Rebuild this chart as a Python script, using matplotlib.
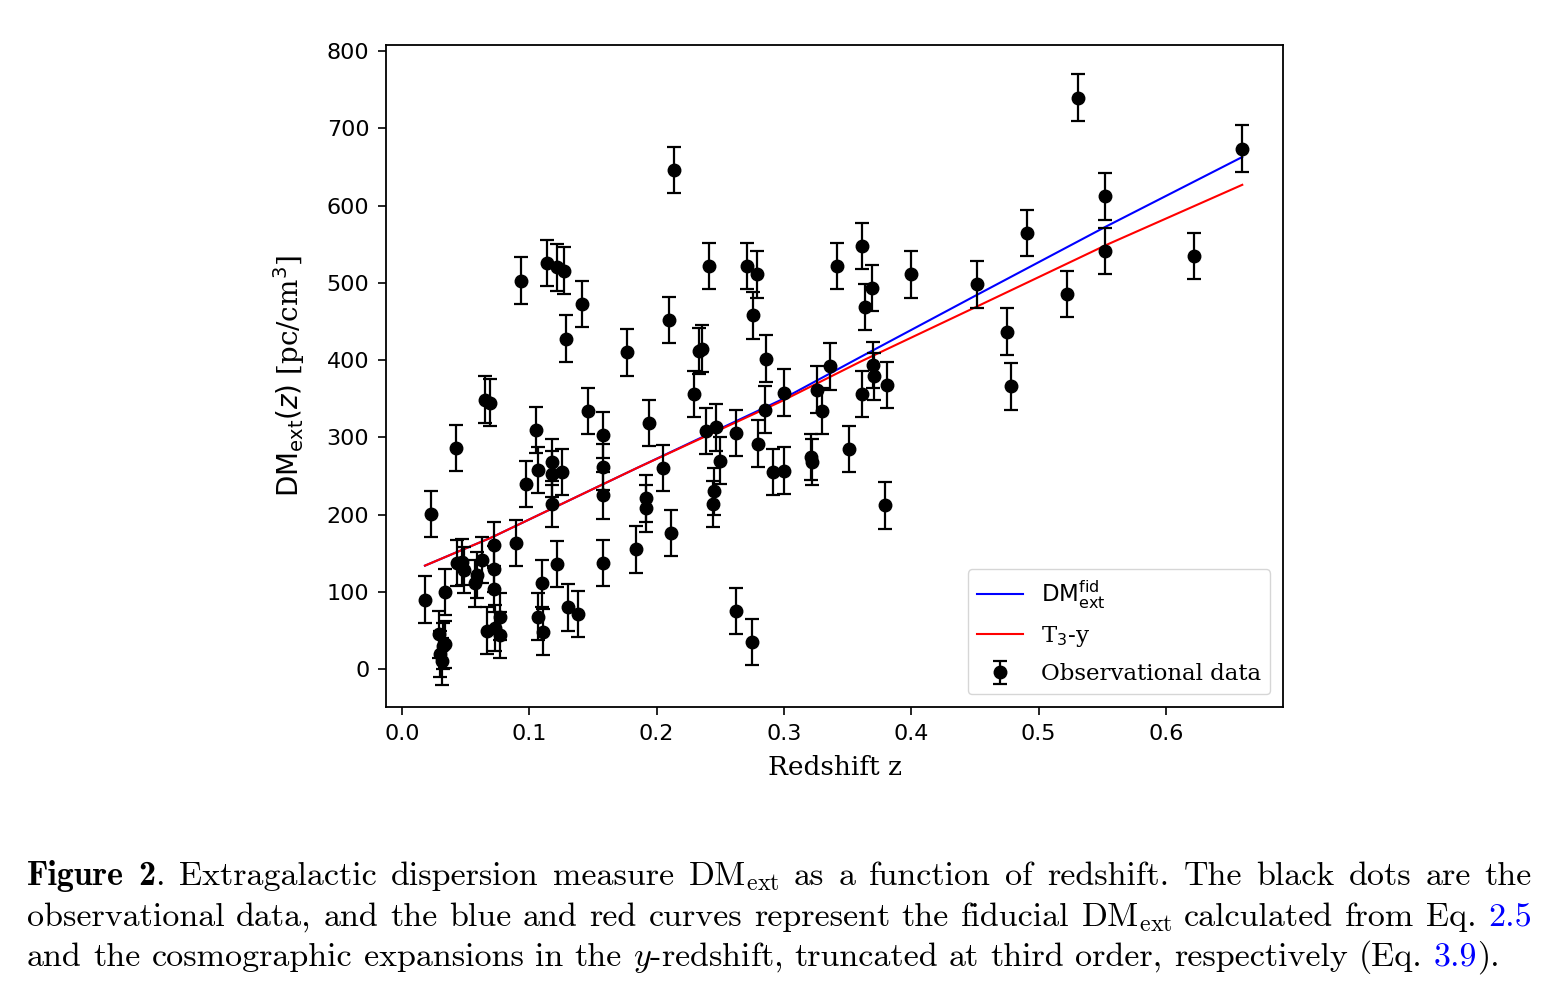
"""Extragalactic DM vs redshift with fiducial and T3-y curves, plus caption."""
import matplotlib
matplotlib.use("Agg")
import matplotlib.pyplot as plt
from matplotlib.lines import Line2D

# observational data
z_obs = [0.018, 0.023, 0.029, 0.030, 0.031, 0.032, 0.034, 0.034, 0.042, 0.043,
         0.047, 0.049, 0.057, 0.059, 0.063, 0.0655, 0.0665, 0.069, 0.072, 0.072,
         0.072, 0.073, 0.077, 0.077, 0.0895, 0.0935, 0.097, 0.105, 0.107, 0.107,
         0.110, 0.111, 0.114, 0.118, 0.118, 0.118, 0.1215, 0.122, 0.1255, 0.127,
         0.129, 0.130, 0.1385, 0.141, 0.146, 0.158, 0.158, 0.158, 0.158, 0.177,
         0.184, 0.192, 0.192, 0.194, 0.205, 0.210, 0.211, 0.214, 0.229, 0.233,
         0.236, 0.239, 0.241, 0.244, 0.245, 0.247, 0.250, 0.262, 0.262, 0.271,
         0.275, 0.276, 0.279, 0.280, 0.285, 0.286, 0.291, 0.300, 0.300, 0.321,
         0.322, 0.326, 0.330, 0.336, 0.342, 0.351, 0.361, 0.361, 0.364, 0.369,
         0.370, 0.371, 0.379, 0.381, 0.400, 0.452, 0.475, 0.478, 0.491, 0.522,
         0.531, 0.552, 0.552, 0.622, 0.660]
dm_obs = [90, 201, 45, 20, 10, 30, 32, 100, 286, 137,
          139, 128, 111, 122, 141, 349, 50, 345, 161, 130,
          104, 53, 68, 44, 163, 503, 240, 310, 258, 68,
          111, 48, 526, 268, 253, 214, 136, 520, 255, 516,
          428, 80, 71, 473, 334, 303, 262, 225, 137, 410,
          155, 221, 208, 319, 260, 452, 176, 646, 356, 412,
          415, 308, 522, 214, 230, 313, 270, 306, 75, 522,
          35, 458, 511, 292, 336, 402, 255, 257, 358, 275,
          268, 362, 334, 392, 522, 285, 548, 356, 469, 493,
          394, 379, 212, 368, 511, 498, 437, 366, 565, 486,
          740, 612, 541, 535, 674]
dm_err = 30

# model curves
z_model = [0.018, 0.071, 0.184, 0.297, 0.360, 0.451, 0.553, 0.660]
dm_fid = [134, 171, 260, 348, 404, 484, 573, 663]
dm_t3y = [134, 171, 260, 346, 398, 469, 549, 627]

caption_lines = [
    r"*Figure *2|. Extragalactic dispersion measure $\mathrm{DM}_{\mathrm{ext}}$ as a function of redshift. The black dots are the",
    r"observational data, and the blue and red curves represent the fiducial $\mathrm{DM}_{\mathrm{ext}}$ calculated from Eq. #2.5",
    r"and the cosmographic expansions in the $y$-redshift, truncated at third order, respectively (Eq. #3.9|).",
]

W, H = 1556, 1005


def draw_caption(fig, lines, x0, x1, baselines, size):
    r = fig.canvas.get_renderer()
    space = size * 0.333 * fig.dpi / 72
    for i, (line, yb) in enumerate(zip(lines, baselines)):
        words = []
        for word in line.split(" "):
            segs = []
            for seg in word.split("|"):
                fam, col = "cmr10", "black"
                if seg.startswith("*"):
                    fam, seg = "cmb10", seg[1:]
                elif seg.startswith("#"):
                    col, seg = "blue", seg[1:]
                t = fig.text(0, 1 - yb / H, seg, fontsize=size, family=fam,
                             color=col, math_fontfamily="cm",
                             ha="left", va="baseline")
                segs.append((t, t.get_window_extent(renderer=r).width))
            words.append(segs)
        widths = [sum(w for _, w in segs) for segs in words]
        if i < len(lines) - 1 and len(words) > 1:
            gap = (x1 - x0 - sum(widths)) / (len(words) - 1)
        else:
            gap = space
        x = x0
        for segs in words:
            for t, w in segs:
                t.set_x(x / W)
                x += w
            x += gap


fig = plt.figure(figsize=(W / 100, H / 100), dpi=100)
ax = fig.add_axes([386 / W, 1 - 707 / H, 897 / W, 662 / H])

ax.errorbar(z_obs, dm_obs, yerr=dm_err, fmt="o", color="black", ms=9,
            elinewidth=1.6, capsize=5, capthick=1.6, zorder=3)
ax.plot(z_model, dm_fid, color="blue", lw=1.5, zorder=2)
ax.plot(z_model, dm_t3y, color="red", lw=1.5, zorder=2)

ax.set_xlim(-0.0126, 0.692)
ax.set_ylim(-49, 808)
ax.set_xticks([0.0, 0.1, 0.2, 0.3, 0.4, 0.5, 0.6])
ax.set_yticks(range(0, 801, 100))
ax.tick_params(labelsize=16, length=6, width=1.2, pad=6)
for s in ax.spines.values():
    s.set_linewidth(1.3)

ax.set_xlabel("Redshift z", family="DejaVu Serif", fontsize=19, labelpad=8)
ax.set_ylabel(r"$\mathrm{DM_{ext}}(z)$ [pc/cm$^3$]", family="DejaVu Serif",
              fontsize=20, math_fontfamily="dejavusans", labelpad=14)

handles = [
    Line2D([], [], color="blue", lw=1.5),
    Line2D([], [], color="red", lw=1.5),
    ax.containers[0],
]
labels = [r"$\mathrm{DM}^{\mathrm{fid}}_{\mathrm{ext}}$", r"T$_3$-y", "Observational data"]
ax.legend(handles, labels, loc="lower right", labelspacing=0.6,
          borderaxespad=0.55,
          prop={"family": "DejaVu Serif", "size": 16.5, "math_fontfamily": "dejavusans"})

draw_caption(fig, caption_lines, 27, 1532, [885, 926, 966], 24.5)

fig.savefig("out.png", dpi=100)
